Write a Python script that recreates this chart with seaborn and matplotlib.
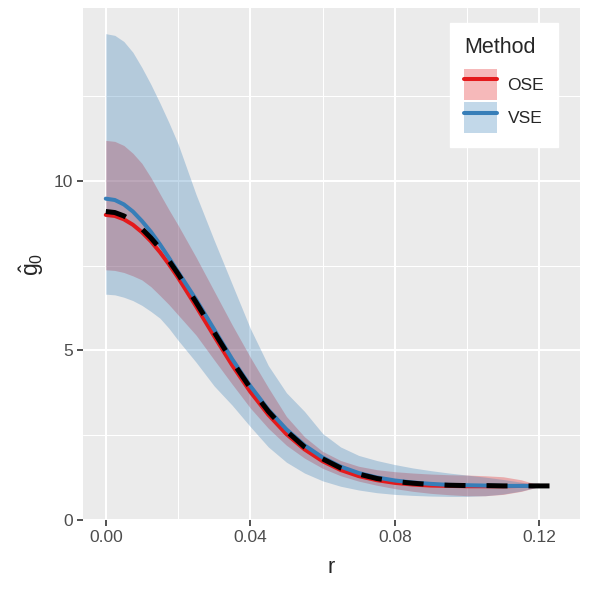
import numpy as np
import pandas as pd
import seaborn as sns
import matplotlib.pyplot as plt
from matplotlib.patches import Patch
from matplotlib.lines import Line2D

# distances r (shared by both estimators)
r = [0.0000, 0.0025, 0.0050, 0.0075, 0.0100, 0.0125, 0.0150, 0.0175, 0.0200,
     0.025, 0.030, 0.035, 0.040, 0.045, 0.050, 0.055, 0.060, 0.065, 0.070,
     0.075, 0.080, 0.085, 0.090, 0.095, 0.100, 0.105, 0.110, 0.115, 0.120]

# OSE estimate and band
ose_est = [9.00, 8.97, 8.87, 8.71, 8.49, 8.22, 7.90, 7.54, 7.15,
           6.30, 5.42, 4.56, 3.78, 3.10, 2.53, 2.08, 1.73, 1.47, 1.29,
           1.17, 1.09, 1.04, 1.01, 1.00, 0.99, 0.99, 0.99, 1.00, 1.00]
ose_lo = [7.38, 7.36, 7.30, 7.20, 7.08, 6.88, 6.62, 6.35, 6.05,
          5.45, 4.72, 4.00, 3.30, 2.70, 2.20, 1.82, 1.52, 1.30, 1.14,
          1.02, 0.92, 0.84, 0.78, 0.74, 0.71, 0.71, 0.75, 0.84, 0.98]
ose_hi = [11.20, 11.17, 11.05, 10.82, 10.52, 10.10, 9.62, 9.15, 8.70,
          7.75, 6.75, 5.75, 4.80, 3.90, 3.05, 2.45, 2.02, 1.75, 1.58,
          1.48, 1.42, 1.38, 1.35, 1.33, 1.32, 1.30, 1.27, 1.18, 1.02]

# VSE estimate and band
vse_est = [9.48, 9.44, 9.31, 9.10, 8.82, 8.50, 8.13, 7.73, 7.32,
           6.50, 5.62, 4.74, 3.95, 3.25, 2.67, 2.20, 1.84, 1.57, 1.38,
           1.25, 1.16, 1.10, 1.06, 1.03, 1.02, 1.01, 1.00, 1.00, 1.00]
vse_lo = [6.66, 6.64, 6.57, 6.47, 6.33, 6.15, 5.95, 5.65, 5.30,
          4.65, 3.95, 3.38, 2.75, 2.15, 1.70, 1.38, 1.15, 0.99, 0.88,
          0.80, 0.75, 0.72, 0.70, 0.69, 0.69, 0.71, 0.76, 0.85, 0.98]
vse_hi = [14.35, 14.30, 14.12, 13.80, 13.35, 12.85, 12.30, 11.72, 11.10,
          9.60, 8.25, 6.95, 5.65, 4.55, 3.75, 3.20, 2.55, 2.15, 1.90,
          1.75, 1.63, 1.53, 1.45, 1.38, 1.32, 1.26, 1.19, 1.11, 1.02]

# true g0
r_true = r + [0.125]
g_true = [9.10, 9.07, 8.97, 8.81, 8.59, 8.32, 8.01, 7.65, 7.26,
          6.42, 5.54, 4.68, 3.89, 3.20, 2.62, 2.15, 1.80, 1.53, 1.35,
          1.22, 1.13, 1.08, 1.04, 1.02, 1.01, 1.01, 1.00, 1.00, 1.00,
          1.00]

methods = ["OSE", "VSE"]
colors = {"OSE": "#E41A1C", "VSE": "#377EB8"}

df = pd.concat([
    pd.DataFrame({"r": r, "g": ose_est, "lo": ose_lo, "hi": ose_hi, "Method": "OSE"}),
    pd.DataFrame({"r": r, "g": vse_est, "lo": vse_lo, "hi": vse_hi, "Method": "VSE"}),
])

sns.set_theme(style="darkgrid", rc={
    "axes.facecolor": "#EBEBEB",
    "grid.color": "white",
    "axes.edgecolor": "#EBEBEB",
    "xtick.color": "#333333",
    "ytick.color": "#333333",
    "xtick.bottom": True,
    "ytick.left": True,
})
plt.rcParams["font.family"] = ["Liberation Sans", "DejaVu Sans"]
plt.rcParams["mathtext.fontset"] = "custom"
plt.rcParams["mathtext.rm"] = "Liberation Sans"
plt.rcParams["mathtext.it"] = "Liberation Sans:italic"

fig = plt.figure(figsize=(5.9, 5.9), dpi=100)
fig.subplots_adjust(left=0.141, right=0.983, bottom=0.119, top=0.986)
ax = fig.add_subplot(111)

# ribbons
for m in methods:
    sub = df[df["Method"] == m]
    ax.fill_between(sub["r"], sub["lo"], sub["hi"], color=colors[m], alpha=0.3, lw=0)

# estimates
sns.lineplot(data=df, x="r", y="g", hue="Method", palette=colors, lw=2.9,
             estimator=None, legend=False, ax=ax)

# truth
sns.lineplot(x=r_true, y=g_true, color="black", lw=3.6,
             linestyle=(0, (4.2, 4.2)), ax=ax)

ax.set_xlim(-0.00625, 0.13125)
ax.set_ylim(0, 15.1)
ax.set_xticks([0.00, 0.04, 0.08, 0.12])
ax.set_xticklabels(["0.00", "0.04", "0.08", "0.12"])
ax.set_yticks([0, 5, 10])
ax.set_xticks([0.02, 0.06, 0.10], minor=True)
ax.set_yticks([2.5, 7.5, 12.5], minor=True)
ax.grid(which="major", color="white", lw=1.5)
ax.grid(which="minor", color="white", lw=0.75)
ax.tick_params(which="major", length=4, width=1.2, labelsize=12.5,
               labelcolor="#4D4D4D", pad=3)
ax.tick_params(which="minor", length=0)
for s in ax.spines.values():
    s.set_visible(False)

ax.set_xlabel("r", fontsize=15.5, labelpad=9)
ax.set_ylabel(r"$\hat{\mathrm{g}}_0$", fontsize=16.5, labelpad=6)

handles = [(Patch(facecolor=colors[m], alpha=0.3, edgecolor="none"),
            Line2D([], [], color=colors[m], lw=2.9)) for m in methods]
leg = ax.legend(handles, methods, title="Method", loc="upper right",
                bbox_to_anchor=(0.956, 0.971), borderaxespad=0,
                fontsize=12.5, title_fontsize=15.5, frameon=True,
                fancybox=False, facecolor="white", edgecolor="white",
                framealpha=1, handlelength=1.9, handleheight=2.33,
                labelspacing=0.15, handletextpad=0.6, borderpad=0.8,
                alignment="left")
leg._legend_box.sep = 8

fig.savefig("out.png", dpi=100)
